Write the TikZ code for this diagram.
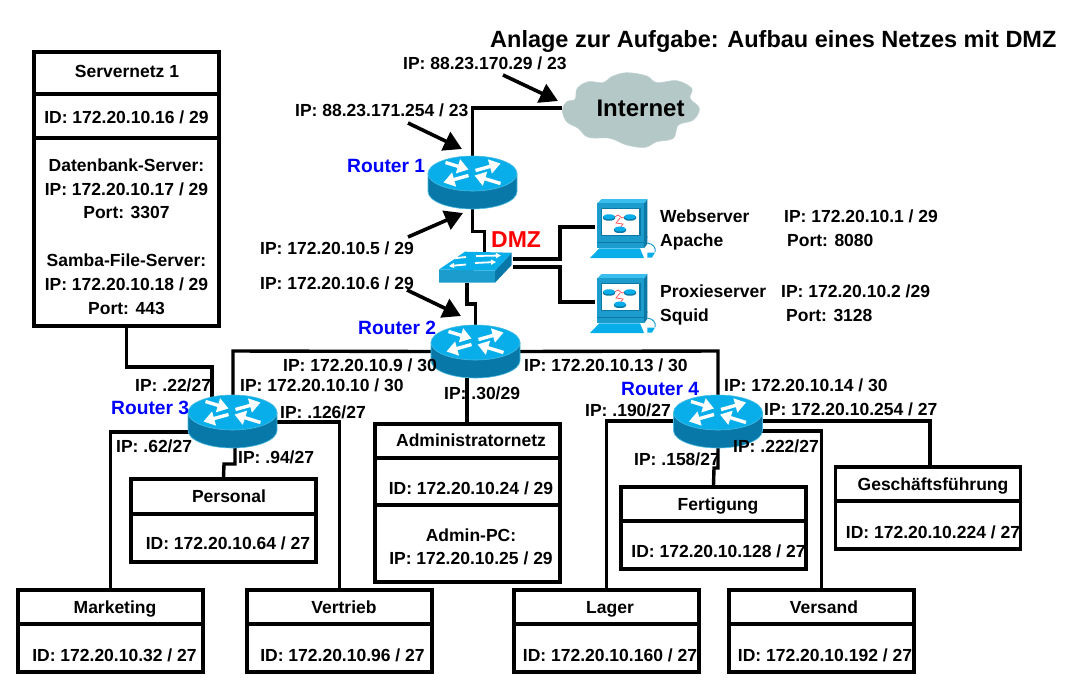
\documentclass[tikz,border=0pt]{standalone}
\usepackage{fontspec}
\setmainfont{Liberation Sans}
\usetikzlibrary{arrows.meta,calc}
\definecolor{rtop}{HTML}{08AEEA}
\definecolor{rside}{HTML}{0878A8}
\definecolor{redge}{HTML}{48BCE4}
\definecolor{pcblue}{HTML}{1C9CCC}
\definecolor{pcdark}{HTML}{0C78A4}
\definecolor{cloudc}{HTML}{B4C8C8}
\tikzset{
 x=1pt,y=-1pt,
 wire/.style={line width=3.4pt,black,line join=miter},
 netbox/.style={draw=black,line width=3.6pt,minimum width=185pt,inner sep=0pt},
 anchorbox/.style={minimum width=89pt,minimum height=53pt,inner sep=0pt},
 lbl/.style={anchor=west,inner sep=0pt,text height=13pt,text depth=0pt,font=\fontsize{17.5}{18}\selectfont\bfseries},
 ctr/.style={anchor=center,inner sep=0pt,text height=13pt,text depth=0pt,font=\fontsize{17.5}{18}\selectfont\bfseries},
 rname/.style={anchor=west,inner sep=0pt,text height=14pt,text depth=0pt,text=blue,font=\fontsize{19.2}{20}\selectfont\bfseries},
 callout/.style={line width=3.6pt,black,-{Triangle[length=18pt,width=20pt]}},
 rarrow/.style={white,line width=3.4pt,-{Triangle[length=11pt,width=14pt]}},
 router/.pic={
  \fill[rside,draw=redge,line width=.6pt] (-44.5,-9) -- (-44.5,9) arc[start angle=180,end angle=360,x radius=44.5pt,y radius=17.5pt] -- (44.5,-9) -- cycle;
  \fill[rtop,draw=redge,line width=.6pt] (0,-9) ellipse[x radius=44.5pt,y radius=17.5pt];
  \draw[rarrow] (-27,-20) -- (-4,-13);
  \draw[rarrow] (3,-12) -- (28,-19);
  \draw[rarrow] (-4,-7) -- (-29,0);
  \draw[rarrow] (28,1) -- (2,-7);
 },
 minir/.pic={
  \fill[pcdark] (-6,0) rectangle (6,2) (0,2) ellipse[x radius=6pt,y radius=2pt];
  \fill[rtop] (0,0) ellipse[x radius=6pt,y radius=2.4pt];
 },
 computer/.pic={
  \fill[pcdark] (24,-26.7) -- (27.3,-31) -- (27.3,8) -- (24,13) -- cycle;
  \fill[rtop!80!white] (-18.3,-31) -- (27.3,-31) -- (24,-26.7) -- (-22.7,-26.7) -- cycle;
  \fill[pcblue] (-22.7,-26.7) rectangle (24,10);
  \fill[pcdark] (24,10) -- (27.3,6) -- (27.3,14) -- (24,18.3) -- cycle;
  \fill[pcblue] (-22.7,10) rectangle (24,18.3);
  \draw[pcdark,line width=.7pt] (-22.7,12.5) -- (24,12.5);
  \fill[white,draw=pcdark,line width=1.2pt] (-18.3,-21.7) rectangle (20,5.7);
  \draw[red!70!white,line width=.7pt] (-5,-13.3) -- (-2,-15) -- (2,-12) -- (5,-13.3) (0,-12) -- (-4,-7) -- (3,-6) -- (0,-2);
  \path (-11,-13.3) pic {minir} (10,-13.3) pic {minir} (0,-1) pic {minir};
  \fill[rtop] (-30,28) -- (-20.7,18.3) -- (20,18.3) -- (24,28) -- cycle;
  \draw[pcblue,line width=1pt] (27.3,13) .. controls (33,14) and (36,17) .. (35,22);
  \fill[rtop] (27.3,22.5) -- (35,22.5) -- (32,27.5) -- (27.3,27.5) -- cycle;
 },
}
\begin{document}
\begin{tikzpicture}
\useasboundingbox (0,0) rectangle (1070,691);
% anchors for routers and switch
\node[anchorbox] (r1) at (472.5,182.5) {};
\node[anchorbox] (r2) at (475.5,351.5) {};
\node[anchorbox] (r3) at (232.5,421.5) {};
\node[anchorbox] (r4) at (718,421.5) {};
\node[minimum width=73pt,minimum height=32pt,inner sep=0pt] (sw) at (475.5,267.5) {};
\node[minimum width=50pt,minimum height=60pt,inner sep=0pt] (pc1) at (620,227) {};
\node[minimum width=50pt,minimum height=60pt,inner sep=0pt] (pc2) at (620,302) {};
% cloud
\fill[cloudc,draw=cloudc!85!white,line width=.6pt] plot[smooth cycle,tension=.6] coordinates {(562.3,110) (566.7,101.7) (575,99.3) (577.3,88.3) (588.3,81.7) (603.3,82.7) (611.7,76.7) (626.7,72.7) (646.7,76) (656.7,82.7) (676.7,80.7) (691.7,88.3) (690,98.3) (699.3,108.3) (693.3,120) (678.3,125) (673.3,138.3) (656.7,141.7) (645,147.3) (626.7,145) (610,138.3) (588.3,137.3) (578.3,128.3) (566.7,121.7)};
\node[minimum width=138pt,minimum height=74pt,inner sep=0pt] (inet) at (631,108) {};
\node[inner sep=0pt,text height=17pt,text depth=0pt,font=\fontsize{24}{25}\selectfont\bfseries] (inettxt) at (640.5,108) {Internet};
% boxes
\node[netbox,minimum height=274pt] (sv) at (126.5,189) {};
\node[netbox,minimum height=83pt] (pers) at (223.5,520.5) {};
\node[netbox,minimum height=158pt] (adm) at (467.5,503) {};
\node[netbox,minimum height=82pt] (fert) at (713.5,528) {};
\node[netbox,minimum height=82pt] (gesch) at (928,508) {};
\node[netbox,minimum height=82pt] (mark) at (110.5,631) {};
\node[netbox,minimum height=82pt] (vert) at (339.5,631) {};
\node[netbox,minimum height=82pt] (lag) at (606.5,631) {};
\node[netbox,minimum height=82pt] (vers) at (821.5,631) {};
% dividers
\draw[line width=3.6pt] (sv.west |- 0,94) -- (sv.east |- 0,94) (sv.west |- 0,138) -- (sv.east |- 0,138);
\draw[line width=3.6pt] (pers.west |- 0,514) -- (pers.east |- 0,514);
\draw[line width=3.6pt] (adm.west |- 0,458) -- (adm.east |- 0,458) (adm.west |- 0,505) -- (adm.east |- 0,505);
\draw[line width=3.6pt] (fert.west |- 0,521) -- (fert.east |- 0,521);
\draw[line width=3.6pt] (gesch.west |- 0,501) -- (gesch.east |- 0,501);
\foreach \b in {mark,vert,lag,vers} \draw[line width=3.6pt] (\b.west |- 0,624) -- (\b.east |- 0,624);
% connectors
\draw[wire] (r1.north) |- (inet.west);
\draw[wire] (r1.south) -- ++(0,22) -- ++(12,0) -- (484.5,252);
\draw[wire] (467,283) -- (467,304) -- (475.5,304) -- (r2.north);
\draw[wire] (513,259) -- (560,259) |- (pc1.west);
\draw[wire] (513,267) -- (560,267) |- (pc2.west);
\draw[wire] (r2.west) -- (233,351) -- (233,396);
\draw[wire] (r2.east) -- (718,351) -- (718,396);
\draw[wire] (467,378) -- (467,424);
\draw[wire] (sv.south) -- (126.5,367) -- (212,367) -- (212,397);
\draw[wire] (190,432) -- (mark.north |- 0,432) -- (mark.north);
\draw[wire] (270,422) -- (vert.north |- 0,422) -- (vert.north);
\draw[wire] (235,447) -- (235,464) -- (224,464) -- (pers.north);
\draw[wire] (675,421) -- (lag.north |- 0,421) -- (lag.north);
\draw[wire] (760,421) -- (930,421) -- (930,466);
\draw[wire] (750,431) -- (vers.north |- 0,431) -- (vers.north);
\draw[wire] (718,447) -- (718,468) -- (714,468) -- (fert.north);
% callouts
\coordinate (c1) at (503,75); \coordinate (t1) at (558,101);
\coordinate (c2) at (408,123); \coordinate (t2) at (462,149);
\coordinate (c3) at (408,237); \coordinate (t3) at (463,213);
\coordinate (c4) at (407,290); \coordinate (t4) at (461,316);
\draw[callout] (c1) -- (t1);
\draw[callout] (c2) -- (t2);
\draw[callout] (c3) -- (t3);
\draw[callout] (c4) -- (t4);
% devices
\pic at (r1) {router};
\pic at (r2) {router};
\pic at (r3) {router};
\pic at (r4) {router};
\pic at ([yshift=-3pt]pc1) {computer};
\pic at ([yshift=-3pt]pc2) {computer};
\fill[rside] (495,270.7) -- (511.7,252.7) -- (511.7,265) -- (495,282.7) -- cycle;
\fill[pcblue] (439,269.5) -- (495,270.7) -- (495,282.7) -- (439,282.7) -- cycle;
\fill[rtop] (439,269.5) -- (465,251.7) -- (511.7,252.7) -- (495,270.7) -- cycle;
\draw[white,line width=1.8pt,-{Triangle[length=5pt,width=5pt]}] (466,257) -- (447,259);
\draw[white,line width=1.8pt,-{Triangle[length=5pt,width=5pt]}] (476,256) -- (501,255.5);
\draw[white,line width=1.8pt,-{Triangle[length=5pt,width=5pt]}] (466,264.5) -- (449,266);
\draw[white,line width=1.8pt,-{Triangle[length=5pt,width=5pt]}] (475,263) -- (496,262);
% box texts
\node[ctr] (t01) at (127,71) {Servernetz 1};
\node[ctr] (t02) at (126.5,117) {ID: 172.20.10.16 / 29};
\node[ctr] (t03) at (126.5,165) {Datenbank-Server:};
\node[ctr] (t04) at (126.5,189) {IP: 172.20.10.17 / 29};
\node[ctr] (t05) at (126.5,212) {Port: 3307};
\node[ctr] (t06) at (126.5,260) {Samba-File-Server:};
\node[ctr] (t07) at (126.5,284) {IP: 172.20.10.18 / 29};
\node[ctr] (t08) at (126.5,308) {Port: 443};
\node[ctr] (t09) at (229,496) {Personal};
\node[ctr] (t10) at (228,543) {ID: 172.20.10.64 / 27};
\node[ctr] (t11) at (471,440) {Administratornetz};
\node[ctr] (t12) at (471,488) {ID: 172.20.10.24 / 29};
\node[ctr] (t13) at (471,535) {Admin-PC:};
\node[ctr] (t14) at (471,558) {IP: 172.20.10.25 / 29};
\node[ctr] (t15) at (718,504) {Fertigung};
\node[ctr] (t16) at (718.5,551) {ID: 172.20.10.128 / 27};
\node[ctr] (t17) at (933,484) {Geschäftsführung};
\node[ctr] (t18) at (933,532) {ID: 172.20.10.224 / 27};
\node[ctr] (t19) at (115,607) {Marketing};
\node[ctr] (t20) at (114.5,655) {ID: 172.20.10.32 / 27};
\node[ctr] (t21) at (344,607) {Vertrieb};
\node[ctr] (t22) at (342.5,655) {ID: 172.20.10.96 / 27};
\node[ctr] (t23) at (610,607) {Lager};
\node[ctr] (t24) at (610,655) {ID: 172.20.10.160 / 27};
\node[ctr] (t25) at (824,607) {Versand};
\node[ctr] (t26) at (825,655) {ID: 172.20.10.192 / 27};
% labels
\node[anchor=west,inner sep=0pt,font=\fontsize{23.5}{24}\selectfont\bfseries] (title) at (490,41.5) {Anlage zur Aufgabe: Aufbau eines Netzes mit DMZ};
\node[lbl] (l01) at (403,63) {IP: 88.23.170.29 / 23};
\node[lbl] (l02) at (295,110) {IP: 88.23.171.254 / 23};
\node[lbl] (l03) at (260,248) {IP: 172.20.10.5 / 29};
\node[lbl] (l04) at (260,283) {IP: 172.20.10.6 / 29};
\node[lbl] (l05) at (660,216) {Webserver};
\node[lbl] (l06) at (784,216) {IP: 172.20.10.1 / 29};
\node[lbl] (l07) at (660,240) {Apache};
\node[lbl] (l08) at (787,240) {Port: 8080};
\node[lbl] (l09) at (660,291) {Proxieserver};
\node[lbl] (l10) at (781,291) {IP: 172.20.10.2 /29};
\node[lbl] (l11) at (660,315) {Squid};
\node[lbl] (l12) at (786,315) {Port: 3128};
\node[lbl] (l13) at (283,365) {IP: 172.20.10.9 / 30};
\node[lbl] (l14) at (524,365) {IP: 172.20.10.13 / 30};
\node[lbl] (l15) at (135,385) {IP: .22/27};
\node[lbl] (l16) at (240,385) {IP: 172.20.10.10 / 30};
\node[lbl] (l17) at (280,412) {IP: .126/27};
\node[lbl] (l18) at (116,446) {IP: .62/27};
\node[lbl] (l19) at (238,457) {IP: .94/27};
\node[lbl] (l20) at (444,393) {IP: .30/29};
\node[lbl] (l21) at (724,385) {IP: 172.20.10.14 / 30};
\node[lbl] (l22) at (585,410) {IP: .190/27};
\node[lbl] (l23) at (764,409) {IP: 172.20.10.254 / 27};
\node[lbl] (l24) at (733,446) {IP: .222/27};
\node[lbl] (l25) at (634,459) {IP: .158/27};
\node[rname] (n1) at (347,165) {Router 1};
\node[rname] (n2) at (358,327) {Router 2};
\node[rname] (n3) at (111,407) {Router 3};
\node[rname] (n4) at (621,388) {Router 4};
\node[anchor=west,inner sep=0pt,text=red,text height=17pt,text depth=0pt,font=\fontsize{23}{24}\selectfont\bfseries] (dmz) at (491,239) {DMZ};
\end{tikzpicture}
\end{document}
